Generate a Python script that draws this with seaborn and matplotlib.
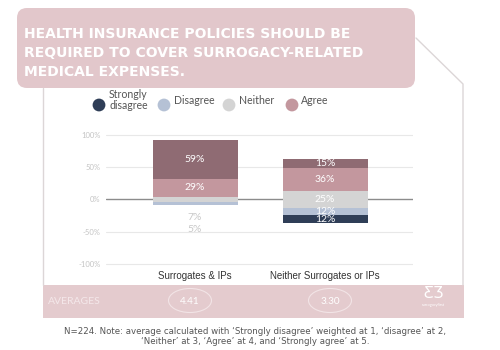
import matplotlib
matplotlib.use("Agg")
import matplotlib.pyplot as plt
import seaborn as sns
import numpy as np
from matplotlib.patches import FancyBboxPatch, Rectangle, Ellipse

# ---------------- data ----------------
groups = ["Surrogates & IPs", "Neither Surrogates or IPs"]
strongly_agree = [59, 15]
agree = [29, 36]
neither = [7, 25]
disagree = [5, 12]
strongly_disagree = [0, 12]
averages = ["4.41", "3.30"]
legend_labels = ["Strongly\ndisagree", "Disagree", "Neither", "Agree"]
ytick_vals = [-100, -50, 0, 50, 100]
title = ("HEALTH INSURANCE POLICIES SHOULD BE\n"
         "REQUIRED TO COVER SURROGACY-RELATED\n"
         "MEDICAL EXPENSES.")
note = ("N=224. Note: average calculated with \u2018Strongly disagree\u2019 weighted at 1, \u2018disagree\u2019 at 2,\n"
        "\u2018Neither\u2019 at 3, \u2018Agree\u2019 at 4, and \u2018Strongly agree\u2019 at 5.")

C_SA = "#8f6b73"
C_A = "#c3979e"
C_N = "#d4d4d4"
C_D = "#b5c1d5"
C_SD = "#2f3e57"
PINK = "#e2c7cb"
BAND = "#e4cbce"
FRAME = "#dcd6d7"

sns.set_theme(style="white")
plt.rcParams['font.family'] = ['Lato', 'DejaVu Sans']

fig = plt.figure(figsize=(5, 3.5), dpi=100)
fig.patch.set_facecolor("white")

# background / decoration axes in pixel coordinates (top-left origin)
bg = fig.add_axes([0, 0, 1, 1], zorder=0)
bg.set_xlim(0, 500)
bg.set_ylim(350, 0)
bg.axis("off")

# frame lines
bg.plot([43, 43], [88, 285], color=FRAME, lw=1.0)
bg.plot([416, 463, 463], [38, 84, 285], color=FRAME, lw=1.0)

# title box
bg.add_patch(FancyBboxPatch((17 + 10, 8 + 10), 398 - 20, 80 - 20,
                            boxstyle="round,pad=10", fc=PINK, ec="none"))
bg.text(24, 53, title, color="white", fontsize=10, fontweight="bold",
        family=["DejaVu Sans"], ha="left", va="center",
        linespacing=1.45)

# legend
leg_x = [99, 164, 229, 292]
leg_tx = [109, 174, 239, 301]
leg_c = [C_SD, C_D, C_N, C_A]
for cx, tx, c, lab in zip(leg_x, leg_tx, leg_c, legend_labels):
    bg.scatter([cx], [105], s=85, color=c, edgecolors="none", zorder=3)
    bg.text(tx, 100, lab, fontsize=7.6, color="#555555", ha="left",
            va="center", linespacing=0.95)

# averages band
bg.add_patch(Rectangle((43, 285), 421, 33, fc=BAND, ec="none"))
bg.text(48, 301, "AVERAGES", fontsize=7.5, color="#f4e8ea", ha="left", va="center")
for cx, av in zip([190, 330], averages):
    bg.add_patch(Ellipse((cx, 300.5), 43, 24, fc="none", ec="#f2e4e6", lw=0.8))
    bg.text(cx, 301, av, fontsize=7.2, color="white", ha="center", va="center")
bg.text(433, 294, "\u01b8\u01b7", fontsize=11, color="white", ha="center",
        va="center", family=["DejaVu Sans"])
bg.text(433, 305, "surrogacyfirst", fontsize=2.8, color="white", ha="center", va="center")

# footnote
bg.text(255, 336.5, note, fontsize=6.25, color="#555555", ha="center", va="center",
        linespacing=1.2, family=["DejaVu Sans"])

# ---------------- main chart ----------------
ax = fig.add_axes([0.212, 0.2366, 0.614, 0.3961], zorder=1)
ax.patch.set_alpha(0)

sa = np.array(strongly_agree) / 100
ag = np.array(agree) / 100
ne = np.array(neither) / 100
di = np.array(disagree) / 100
sd = np.array(strongly_disagree) / 100
half = ne / 2

layers = [
    (sa + ag + half, C_SA),
    (ag + half, C_A),
    (half, C_N),
    (-(half + di + sd), C_SD),
    (-(half + di), C_D),
    (-half, C_N),
]
for vals, c in layers:
    sns.barplot(x=groups, y=vals, order=groups, color=c, saturation=1,
                width=0.654, linewidth=0, errorbar=None, ax=ax)

for v in ytick_vals:
    if v == 0:
        ax.axhline(0, color="#8c8c8c", lw=1.0, zorder=0.5)
    else:
        ax.axhline(v / 100, color="#e8e8e8", lw=0.8, zorder=0.5)

ax.set_xlim(-0.685, 1.677)
ax.set_ylim(-1.05, 1.1)
ax.set_yticks([v / 100 for v in ytick_vals])
ax.set_yticklabels([f"{v}%" for v in ytick_vals])
ax.tick_params(axis="y", length=0, pad=4, labelsize=5.5, labelcolor="#c4c4c4")
ax.tick_params(axis="x", length=0, pad=3, labelsize=7, labelcolor="#333333")
for lab in ax.get_xticklabels():
    lab.set_family(["Liberation Sans", "DejaVu Sans"])
for s in ax.spines.values():
    s.set_visible(False)
ax.set_xlabel("")
ax.set_ylabel("")

# value labels
for i in range(len(groups)):
    segs = [
        (strongly_agree[i], ag[i] + half[i] + sa[i] / 2),
        (agree[i], half[i] + ag[i] / 2),
        (neither[i], 0.0),
        (disagree[i], -(half[i] + di[i] / 2)),
        (strongly_disagree[i], -(half[i] + di[i] + sd[i] / 2)),
    ]
    bottom = -(half[i] + di[i] + sd[i])
    k = 0
    for val, yc in segs:
        if val <= 0:
            continue
        if val >= 10:
            ax.text(i, yc, f"{val}%", color="white", fontsize=7.5,
                    ha="center", va="center", zorder=5)
        else:
            ax.text(i, bottom - 0.2 - 0.185 * k, f"{val}%", color="#c8c8c8",
                    fontsize=7.5, ha="center", va="center", zorder=5)
            k += 1

fig.savefig("out.png", dpi=100, facecolor="white")
